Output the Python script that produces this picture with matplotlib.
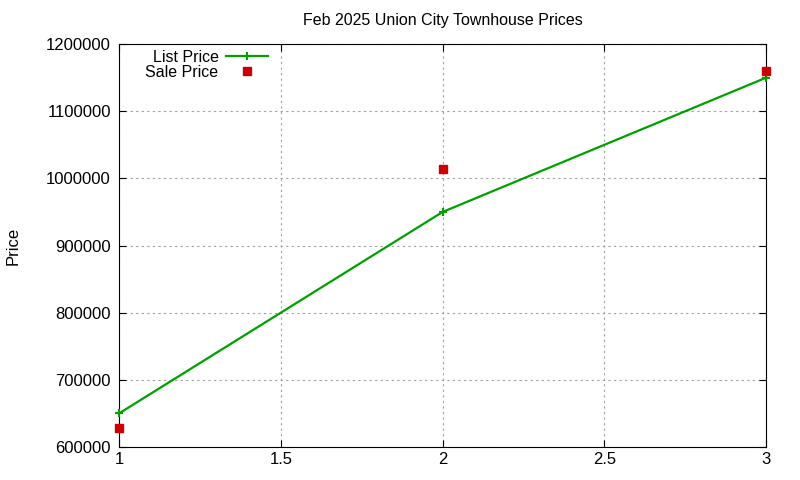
import matplotlib
matplotlib.use("Agg")
import matplotlib.pyplot as plt

x_vals = [1, 2, 3]
list_price = [650000, 950000, 1150000]
sale_price = [628000, 1014000, 1160000]

plt.rcParams["font.family"] = ["Liberation Sans", "DejaVu Sans"]

fig = plt.figure(figsize=(8, 4.8), dpi=100)
ax = fig.add_axes([0.149, 0.069, 0.8085, 0.839])

ax.plot(x_vals, list_price, color="#00a000", lw=1.6, marker="+", ms=6,
        mew=1.5, label="List Price", zorder=3, clip_on=False)
ax.plot(x_vals, sale_price, ls="none", marker="s", ms=6, color="#cc0000",
        label="Sale Price", zorder=4, clip_on=False)

ax.set_xlim(1, 3)
ax.set_ylim(600000, 1200000)
ax.set_xticks([1, 1.5, 2, 2.5, 3])
ax.set_xticklabels(["1", "1.5", "2", "2.5", "3"])
ax.set_yticks(range(600000, 1200001, 100000))
ax.set_yticklabels([str(v) for v in range(600000, 1200001, 100000)])
ax.tick_params(direction="in", top=True, right=True, labelsize=12, length=5)
ax.tick_params(axis="y", pad=6)
ax.grid(True, color="#a0a0a0", ls=(0, (2, 3)), lw=0.8)
ax.set_ylabel("Price", fontsize=12)
ax.yaxis.set_label_coords(-0.152, 0.5)
fig.text(0.553, 1 - 20 / 480, "Feb 2025 Union City Townhouse Prices",
         fontsize=11.5, ha="center", va="center")

leg = fig.legend(loc="upper right", bbox_to_anchor=(0.345, 0.913),
                 frameon=False, markerfirst=False, fontsize=11.5,
                 handlelength=2.6, handletextpad=0.5, borderpad=0,
                 labelspacing=0.0)
for t in leg.get_texts():
    t.set_ha("right")

fig.savefig("out.png", dpi=100)
